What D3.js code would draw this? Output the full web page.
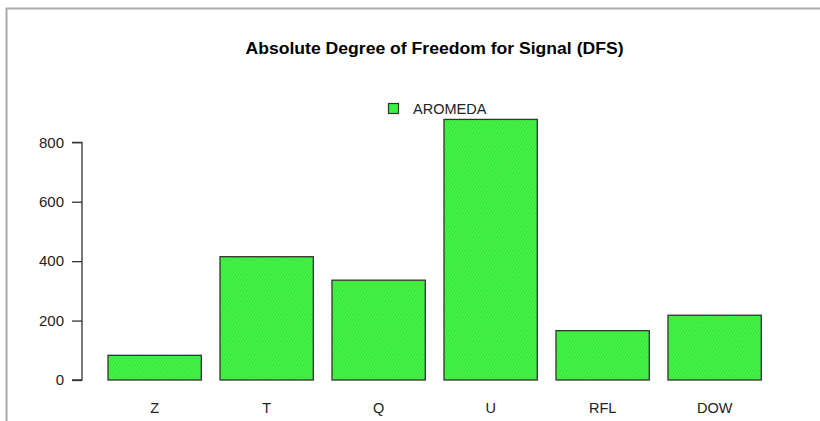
<!DOCTYPE html>
<html><head><meta charset="utf-8">
<script src="https://cdn.jsdelivr.net/npm/d3@7"></script>
<style>body{margin:0;background:#fff}svg{display:block;font-family:"Liberation Sans",Arial,sans-serif}</style>
</head><body>
<svg id="c" width="820" height="421"></svg>
<script>
const categories = ["Z","T","Q","U","RFL","DOW"];
const values = [83, 415, 336, 877, 166, 218];
const seriesName = "AROMEDA";
const yTicks = [0, 200, 400, 600, 800];
const title = "Absolute Degree of Freedom for Signal (DFS)";

const svg = d3.select("#c");
// frame
svg.append("path").attr("d","M6.5,421 L6.5,8.5 L820,8.5").attr("fill","none").attr("stroke","#aaa").attr("stroke-width",2);

const defs = svg.append("defs");
const pat = defs.append("pattern").attr("id","hatch").attr("patternUnits","userSpaceOnUse")
  .attr("width",2.6).attr("height",2.6).attr("patternTransform","rotate(30)");
pat.append("rect").attr("width",2.6).attr("height",2.6).attr("fill","#45f545");
pat.append("line").attr("x1",0).attr("y1",0).attr("x2",0).attr("y2",2.6).attr("stroke","#2dc82d").attr("stroke-width",0.9);

const left = 82, right = 787;
const x = d3.scaleBand().domain(categories).range([108, 761.3]).paddingInner(0.2/1.2).paddingOuter(0);
const y = d3.scaleLinear().domain([0, 800]).range([380, 142.3]);

svg.append("text").attr("x",(left+right)/2).attr("y",53.5).attr("text-anchor","middle")
  .attr("font-weight","bold").attr("font-size",16).attr("fill","#000")
  .attr("textLength",378).attr("lengthAdjust","spacingAndGlyphs").text(title);

svg.append("g").selectAll("rect").data(values).join("rect")
  .attr("x",(d,i)=>x(categories[i])).attr("y",d=>y(d)).attr("width",x.bandwidth()).attr("height",d=>y(0)-y(d))
  .attr("fill","url(#hatch)").attr("stroke","#333").attr("stroke-width",1.3);

const ax = svg.append("g").attr("transform",`translate(${left},0)`).call(d3.axisLeft(y).tickValues(yTicks).tickSize(10).tickPadding(8));
ax.select(".domain").attr("stroke","#333").attr("stroke-width",1.3).attr("d",`M-10,${y(800)}H0V${y(0)}H-10`);
ax.selectAll(".tick line").attr("stroke","#333").attr("stroke-width",1.3);
ax.selectAll("text").attr("font-size",15).attr("fill","#222").attr("font-family","Liberation Sans, Arial, sans-serif");

svg.append("g").selectAll("text").data(categories).join("text")
  .attr("x",d=>x(d)+x.bandwidth()/2).attr("y",413).attr("text-anchor","middle")
  .attr("font-size",14.5).attr("fill","#222").text(d=>d);

// legend
svg.append("rect").attr("x",388.5).attr("y",103.5).attr("width",10).attr("height",10).attr("fill","url(#hatch)").attr("stroke","#333").attr("stroke-width",1.2);
svg.append("text").attr("x",413).attr("y",114).attr("font-size",14.5).attr("fill","#222").text(seriesName);
</script>
</body></html>
